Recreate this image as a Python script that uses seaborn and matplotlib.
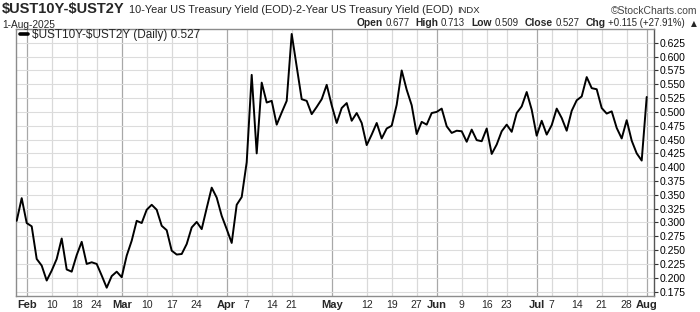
import numpy as np
import pandas as pd
import matplotlib
matplotlib.use("Agg")
import matplotlib.pyplot as plt
import seaborn as sns
from matplotlib.offsetbox import TextArea, HPacker, AnchoredOffsetbox

sns.set_style("white")
plt.rcParams['font.family'] = ['Liberation Sans', 'DejaVu Sans']
plt.rcParams['text.parse_math'] = False

# ---------------- data ----------------
holidays = ["2025-02-17", "2025-04-18", "2025-05-26", "2025-06-19", "2025-07-04"]
start_date = "2025-01-30"
end_date = "2025-08-01"

spread = [
    0.303, 0.344, 0.299, 0.293, 0.234, 0.222, 0.195, 0.213, 0.234, 0.271,
    0.215, 0.211, 0.241, 0.265, 0.225, 0.228, 0.225, 0.204, 0.182, 0.203,
    0.211, 0.201, 0.240, 0.267, 0.303, 0.299, 0.323, 0.332, 0.323, 0.294,
    0.286, 0.249, 0.242, 0.243, 0.261, 0.291, 0.301, 0.288, 0.326, 0.363,
    0.345, 0.312, 0.288, 0.263, 0.332, 0.346, 0.409, 0.567, 0.425, 0.553,
    0.517, 0.520, 0.477, 0.499, 0.520, 0.641, 0.582, 0.523, 0.520, 0.496,
    0.509, 0.523, 0.549, 0.512, 0.480, 0.507, 0.516, 0.484, 0.498, 0.480,
    0.440, 0.459, 0.480, 0.452, 0.470, 0.475, 0.513, 0.575, 0.540, 0.512,
    0.460, 0.482, 0.477, 0.498, 0.500, 0.506, 0.474, 0.462, 0.466, 0.465,
    0.446, 0.468, 0.449, 0.447, 0.470, 0.424, 0.441, 0.465, 0.477, 0.464,
    0.498, 0.510, 0.536, 0.504, 0.457, 0.484, 0.459, 0.476, 0.506, 0.489,
    0.466, 0.502, 0.521, 0.528, 0.563, 0.543, 0.541, 0.507, 0.497, 0.501,
    0.471, 0.452, 0.485, 0.448, 0.425, 0.412, 0.527,
]

tick_dates = ["2025-02-03", "2025-02-10", "2025-02-18", "2025-02-24",
              "2025-03-03", "2025-03-10", "2025-03-17", "2025-03-24",
              "2025-04-01", "2025-04-07", "2025-04-14", "2025-04-21",
              "2025-05-01", "2025-05-12", "2025-05-19", "2025-05-27",
              "2025-06-02", "2025-06-09", "2025-06-16", "2025-06-23",
              "2025-07-01", "2025-07-07", "2025-07-14", "2025-07-21", "2025-07-28",
              "2025-08-01"]
tick_labels = ["Feb", "10", "18", "24", "Mar", "10", "17", "24",
               "Apr", "7", "14", "21", "May", "12", "19", "27",
               "Jun", "9", "16", "23", "Jul", "7", "14", "21", "28", "Aug"]
month_labels = ["Feb", "Mar", "Apr", "May", "Jun", "Jul", "Aug"]

ytick_values = [0.175, 0.200, 0.225, 0.250, 0.275, 0.300, 0.325, 0.350, 0.375,
                0.400, 0.425, 0.450, 0.475, 0.500, 0.525, 0.550, 0.575, 0.600, 0.625]

legend_label = "$UST10Y-$UST2Y (Daily) 0.527"
title_bold = "$UST10Y-$UST2Y"
title_desc = "10-Year US Treasury Yield (EOD)-2-Year US Treasury Yield (EOD)"
title_exch = "INDX"
date_text = "1-Aug-2025"
quote_items = [("Open", "0.677"), ("High", "0.713"), ("Low", "0.509"),
               ("Close", "0.527"), ("Chg", "+0.115 (+27.91%)")]

# ---------------- build ----------------
dates = pd.bdate_range(start_date, end_date, freq="C", holidays=holidays)
df = pd.DataFrame({"idx": np.arange(len(dates)), "spread": spread})
tick_pos = [dates.get_loc(pd.Timestamp(d)) for d in tick_dates]

W, H = 700, 312
fig = plt.figure(figsize=(W / 100, H / 100), dpi=100)
ax = fig.add_axes([16 / W, 16 / H, 638 / W, 267 / H])

sns.lineplot(data=df, x="idx", y="spread", color="black", linewidth=1.4,
             ax=ax, label=legend_label, zorder=5)

ax.set_xlim(-0.14, 127.46)
ax.set_ylim(0.167, 0.650)

# grid
for p, lab in zip(tick_pos, tick_labels):
    ax.axvline(p, color="#a8a8a8" if lab in month_labels else "#d9d9d9",
               lw=0.9, zorder=1)
for v in ytick_values:
    ax.axhline(v, color="#dcdcdc", lw=0.8, zorder=1)

# y axis on right
ax.yaxis.tick_right()
ax.set_yticks(ytick_values)
ax.set_yticklabels([f"{v:.3f}" for v in ytick_values])
ax.tick_params(axis="y", direction="out", length=3, width=0.8, pad=1,
               labelsize=7.5, color="#333333", labelcolor="black")

# x axis
ax.set_xticks(tick_pos)
ax.set_xticklabels(tick_labels)
ax.set_xticks(np.arange(len(dates)), minor=True)
ax.tick_params(axis="x", which="major", length=0, pad=3, labelsize=7.5)
ax.tick_params(axis="x", which="minor", length=2, width=0.6, color="#999999")
for t in ax.get_xticklabels():
    if t.get_text() in month_labels:
        t.set_fontweight("bold")
        t.set_fontsize(8)

ax.set_xlabel("")
ax.set_ylabel("")
for s in ax.spines.values():
    s.set_color("#8c8c8c")
    s.set_linewidth(1.0)
ax.spines["right"].set_color("#555555")

leg = ax.legend(loc="upper left", bbox_to_anchor=(0.006, 0.999), frameon=False,
                fontsize=8.5, handlelength=0.65, handletextpad=0.4,
                borderpad=0, borderaxespad=0)
for h in leg.get_lines():
    h.set_linewidth(2.6)

# header line 1
row1 = HPacker(children=[
    TextArea(title_bold, textprops=dict(fontsize=10.5, fontweight="bold")),
    TextArea(title_desc, textprops=dict(fontsize=7.9)),
    TextArea(title_exch, textprops=dict(fontsize=6.8)),
], align="baseline", pad=0, sep=3)
ab1 = AnchoredOffsetbox(loc="upper left", child=row1, pad=0, borderpad=0,
                        frameon=False, bbox_to_anchor=(2 / W, 1 - 2 / H),
                        bbox_transform=fig.transFigure)
fig.add_artist(ab1)

fig.text(697 / W, 1 - 14 / H, "\u00a9StockCharts.com", ha="right",
         va="baseline", fontsize=7.5, color="#444444")

# header line 2
fig.text(2 / W, 1 - 27.5 / H, date_text, ha="left", va="baseline", fontsize=7.3)

groups = []
for lab, val in quote_items:
    groups.append(HPacker(children=[
        TextArea(lab, textprops=dict(fontsize=7.4, fontweight="bold")),
        TextArea(val, textprops=dict(fontsize=6.9)),
    ], align="baseline", pad=0, sep=1.8))
groups.append(TextArea("\u25b2", textprops=dict(fontsize=5.5, family="DejaVu Sans")))
row2 = HPacker(children=groups, align="baseline", pad=0, sep=4.5)
ab2 = AnchoredOffsetbox(loc="upper right", child=row2, pad=0, borderpad=0,
                        frameon=False, bbox_to_anchor=(697 / W, 1 - 18.5 / H),
                        bbox_transform=fig.transFigure)
fig.add_artist(ab2)

fig.savefig("out.png", dpi=100)
